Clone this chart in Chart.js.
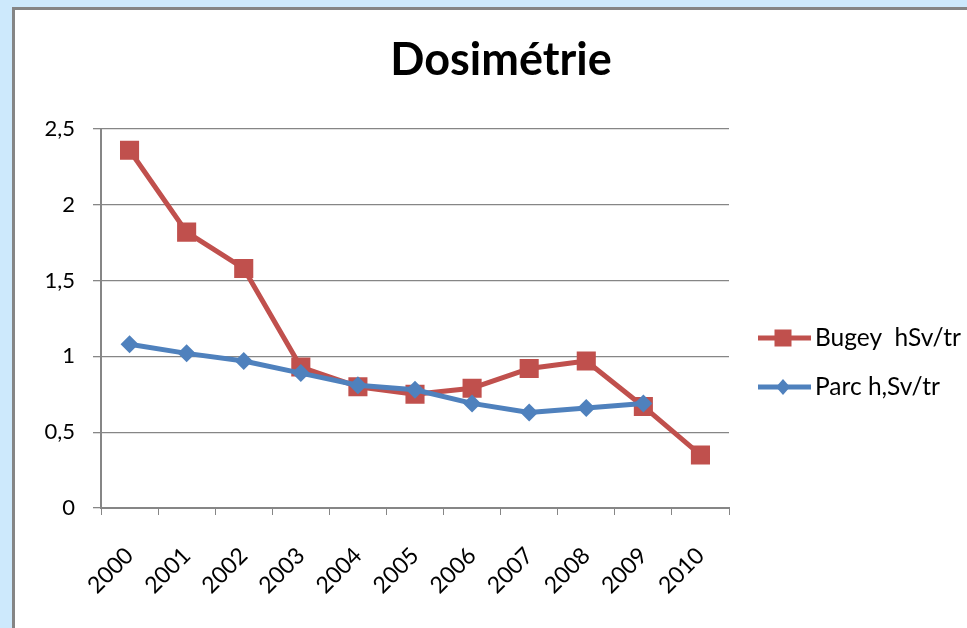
<!DOCTYPE html>
<html>
<head>
<meta charset="utf-8">
<script src="https://cdn.jsdelivr.net/npm/chart.js@4"></script>
<style>
    html, body { margin: 0; padding: 0; }
    body { width: 967px; height: 628px; background: #cde9fc; overflow: hidden; position: relative; }
    .frame { position: absolute; left: 12px; top: 7px; width: 1000px; height: 700px; border: 3px solid #858585; background: #fff; }
    .wrap { position: absolute; left: 0; top: 0; width: 952px; height: 618px; }
</style>
</head>
<body>
<div class="frame">
    <div class="wrap"><canvas id="lineChart"></canvas></div>
</div>
<script>
const years = ['2000', '2001', '2002', '2003', '2004', '2005', '2006', '2007', '2008', '2009', '2010'];
const bugey = [2.36, 1.82, 1.58, 0.93, 0.80, 0.75, 0.79, 0.92, 0.97, 0.67, 0.35];
const parc = [1.08, 1.02, 0.97, 0.89, 0.81, 0.78, 0.69, 0.63, 0.66, 0.69, null];
const titleText = 'Dosimétrie';
const seriesNames = ['Bugey  hSv/tr', 'Parc h,Sv/tr'];

const colors = {
    red: '#c0504d',
    blue: '#4f81bd',
    axis: '#868686',
    text: '#000000'
};

const fontFamily = 'Lato, "Open Sans", sans-serif';

// title + legend drawn by hand, like the Excel layout
const decorations = {
    id: 'decorations',
    afterDraw(chart) {
        const ctx = chart.ctx;
        ctx.save();
        ctx.fillStyle = colors.text;
        ctx.font = 'bold 45px ' + fontFamily;
        ctx.textAlign = 'center';
        ctx.textBaseline = 'middle';
        ctx.fillText(titleText, 486, 50);

        const rows = [
            { name: seriesNames[0], color: colors.red, style: 'rect', y: 328 },
            { name: seriesNames[1], color: colors.blue, style: 'diamond', y: 377 }
        ];
        rows.forEach(row => {
            ctx.strokeStyle = row.color;
            ctx.lineWidth = 5;
            ctx.beginPath();
            ctx.moveTo(743, row.y);
            ctx.lineTo(796, row.y);
            ctx.stroke();
            ctx.fillStyle = row.color;
            if (row.style === 'rect') {
                ctx.fillRect(768 - 8.5, row.y - 8.5, 17, 17);
            } else {
                ctx.beginPath();
                ctx.moveTo(768, row.y - 8);
                ctx.lineTo(775, row.y);
                ctx.lineTo(768, row.y + 8);
                ctx.lineTo(761, row.y);
                ctx.closePath();
                ctx.fill();
            }
            ctx.fillStyle = colors.text;
            ctx.font = '24.5px ' + fontFamily;
            ctx.textAlign = 'left';
            ctx.textBaseline = 'middle';
            ctx.fillText(row.name, 800, row.y);
        });
        ctx.restore();
    }
};

const ctx = document.getElementById('lineChart').getContext('2d');

const lineChart = new Chart(ctx, {
    type: 'line',
    data: {
        labels: years,
        datasets: [{
            label: seriesNames[0],
            data: bugey,
            borderColor: colors.red,
            backgroundColor: colors.red,
            borderWidth: 5,
            borderJoinStyle: 'round',
            pointStyle: 'rect',
            pointRadius: 13.5,
            pointBorderWidth: 0,
            tension: 0,
            order: 2
        }, {
            label: seriesNames[1],
            data: parc,
            borderColor: colors.blue,
            backgroundColor: colors.blue,
            borderWidth: 5,
            borderJoinStyle: 'round',
            pointStyle: 'rectRot',
            pointRadius: 9,
            pointBorderWidth: 0,
            tension: 0,
            order: 1
        }]
    },
    options: {
        responsive: true,
        maintainAspectRatio: false,
        animation: false,
        layout: {
            padding: { left: 0, right: 238, top: 119, bottom: 0 }
        },
        plugins: {
            legend: { display: false },
            title: { display: false },
            tooltip: { enabled: false }
        },
        scales: {
            x: {
                offset: true,
                grid: {
                    offset: true,
                    drawOnChartArea: false,
                    drawTicks: true,
                    tickLength: 7,
                    color: colors.axis
                },
                border: { color: colors.axis, width: 2 },
                ticks: {
                    color: colors.text,
                    font: { family: fontFamily, size: 23 },
                    minRotation: 45,
                    maxRotation: 45,
                    padding: 27,
                    autoSkip: false
                },
                afterFit: function(scale) {
                    scale.height = 120;
                }
            },
            y: {
                min: 0,
                max: 2.5,
                grid: {
                    color: colors.axis,
                    lineWidth: 1.3,
                    tickLength: 8
                },
                border: { color: colors.axis, width: 2 },
                ticks: {
                    stepSize: 0.5,
                    color: colors.text,
                    font: { family: fontFamily, size: 22 },
                    padding: 18,
                    callback: function(value) {
                        return String(value).replace('.', ',');
                    }
                },
                afterFit: function(scale) {
                    scale.width = 86;
                }
            }
        }
    },
    plugins: [decorations]
});
</script>
</body>
</html>
